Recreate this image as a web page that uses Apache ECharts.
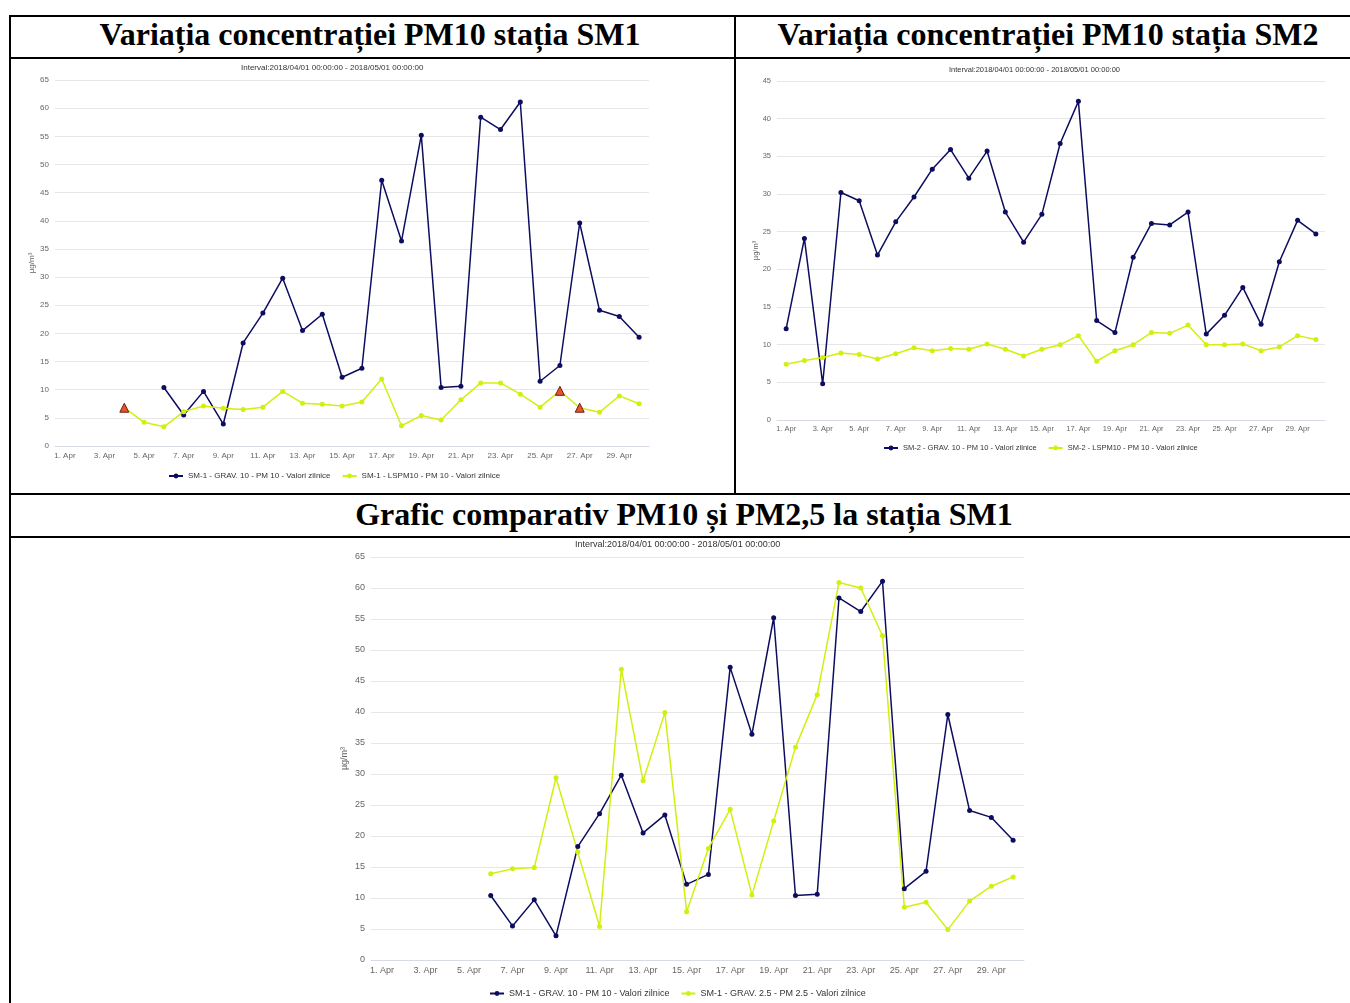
<!DOCTYPE html>
<html>
<head>
<meta charset="UTF-8">
<title>PM10 SM1 / SM2</title>
<script src="https://cdn.jsdelivr.net/npm/echarts@6/dist/echarts.min.js"></script>
<style>
  body { margin: 0; background: #fff; width: 1350px; height: 1003px; overflow: hidden; position: relative; }
  .ln { position: absolute; background: #000; }
  .ttl { position: absolute; height: 41px; line-height: 41px; text-align: center; white-space: nowrap;
         font-family: "Liberation Serif", "Times New Roman", serif; font-weight: bold; font-size: 32px; color: #000; }
  .ch { position: absolute; }
</style>
</head>
<body>
  <!-- table borders -->
  <div class="ln" style="left:9px;top:15px;width:1341px;height:2px"></div>
  <div class="ln" style="left:9px;top:15px;width:2px;height:988px"></div>
  <div class="ln" style="left:734px;top:15px;width:2px;height:479px"></div>
  <div class="ln" style="left:9px;top:57px;width:1341px;height:2px"></div>
  <div class="ln" style="left:9px;top:493px;width:1341px;height:2px"></div>
  <div class="ln" style="left:9px;top:536px;width:1341px;height:2px"></div>

  <div class="ttl" style="left:0px;top:14px;width:740px">Variația concentrației PM10 stația SM1</div>
  <div class="ttl" style="left:748px;top:14px;width:600px">Variația concentrației PM10 stația SM2</div>
  <div class="ttl" style="left:284px;top:494px;width:800px">Grafic comparativ PM10 și PM2,5 la stația SM1</div>

  <div id="c1" class="ch" style="left:11px;top:60px;width:723px;height:432px"></div>
  <div id="c2" class="ch" style="left:737px;top:60px;width:613px;height:432px"></div>
  <div id="c3" class="ch" style="left:11px;top:538px;width:1339px;height:465px"></div>

<script type="text/javascript">
const days = ['1. Apr', '2. Apr', '3. Apr', '4. Apr', '5. Apr', '6. Apr', '7. Apr', '8. Apr', '9. Apr', '10. Apr',
  '11. Apr', '12. Apr', '13. Apr', '14. Apr', '15. Apr', '16. Apr', '17. Apr', '18. Apr', '19. Apr', '20. Apr',
  '21. Apr', '22. Apr', '23. Apr', '24. Apr', '25. Apr', '26. Apr', '27. Apr', '28. Apr', '29. Apr', '30. Apr'];

// SM1 - PM10 gravimetric / LSPM10
const sm1Grav10 = [null, null, null, null, null, 10.4, 5.5, 9.7, 3.9, 18.3, 23.6, 29.8, 20.5, 23.4, 12.2,
  13.8, 47.2, 36.4, 55.2, 10.4, 10.6, 58.4, 56.2, 61.1, 11.5, 14.3, 39.6, 24.1, 23.0, 19.3];
const sm1Lspm10 = [null, null, null, 6.8, 4.2, 3.4, 6.1, 7.1, 6.7, 6.5, 6.9, 9.7, 7.6, 7.4, 7.1,
  7.8, 11.9, 3.6, 5.4, 4.6, 8.2, 11.2, 11.2, 9.2, 6.9, 9.8, 6.8, 6.0, 8.9, 7.5];
const sm1Flagged = ['4. Apr', '26. Apr', '27. Apr'];

// SM2 - PM10 gravimetric / LSPM10
const sm2Grav10 = [12.1, 24.1, 4.8, 30.2, 29.1, 21.9, 26.3, 29.6, 33.3, 35.9, 32.1, 35.7, 27.6, 23.6, 27.3,
  36.7, 42.3, 13.2, 11.6, 21.6, 26.1, 25.9, 27.6, 11.4, 13.9, 17.6, 12.7, 21.0, 26.5, 24.7];
const sm2Lspm10 = [7.4, 7.9, 8.3, 8.9, 8.7, 8.1, 8.8, 9.6, 9.2, 9.5, 9.4, 10.1, 9.4, 8.5, 9.4,
  10.0, 11.2, 7.8, 9.2, 10.0, 11.6, 11.5, 12.6, 10.0, 10.0, 10.1, 9.2, 9.7, 11.2, 10.7];

// SM1 - PM2.5 gravimetric
const sm1Grav25 = [null, null, null, null, null, 13.9, 14.7, 14.9, 29.4, 17.4, 5.4, 46.9, 28.9, 39.9, 7.8,
  18.0, 24.3, 10.5, 22.4, 34.3, 42.8, 60.9, 60.0, 52.3, 8.5, 9.3, 4.9, 9.5, 11.9, 13.4];

const intervalText = 'Interval:2018/04/01 00:00:00 - 2018/05/01 00:00:00';
const NAVY = '#0d0d5f';
const YELLOW = '#d3ef10';
const FONT = '"Liberation Sans", Arial, sans-serif';

function lineSeries(name, data, color) {
  return {
    name: name, type: 'line', data: data, color: color,
    symbol: 'circle', symbolSize: 5, connectNulls: false,
    lineStyle: { width: 1.5, color: color },
    itemStyle: { color: color },
    emphasis: { disabled: true }
  };
}

function buildOption(c) {
  return {
    animation: false,
    textStyle: { fontFamily: FONT },
    graphic: [{
      type: 'text', left: c.titleLeft, top: c.titleTop,
      style: { text: intervalText, fontSize: c.fs, fill: '#333', fontFamily: FONT }
    }],
    grid: { left: c.grid[0], top: c.grid[1], width: c.grid[2], height: c.grid[3] },
    legend: {
      left: c.legendLeft, top: c.legendTop, itemWidth: 14, itemHeight: 6, itemGap: 11,
      textStyle: { fontSize: c.fs, color: '#333', fontFamily: FONT },
      data: c.series.map(s => s.name)
    },
    xAxis: {
      type: 'category', data: days, boundaryGap: true,
      axisTick: { show: false },
      axisLine: { lineStyle: { color: '#d6dbe6', width: 1 } },
      axisLabel: { interval: 1, fontSize: c.fs, color: '#666', margin: c.xMargin }
    },
    yAxis: {
      type: 'value', min: 0, max: c.yMax, interval: 5,
      name: 'µg/m³', nameLocation: 'middle', nameGap: c.nameGap, nameRotate: 90,
      nameMoveOverlap: false,
      nameTextStyle: { fontSize: c.fs, color: '#666' },
      axisLine: { show: false }, axisTick: { show: false },
      axisLabel: { fontSize: c.fs, color: '#666', margin: 6 },
      splitLine: { lineStyle: { color: '#e6e6e6', width: 1 } }
    },
    series: c.series
  };
}

// chart 1 - SM1
const s1b = lineSeries('SM-1 - LSPM10 - PM 10 - Valori zilnice', sm1Lspm10.map((v, i) => {
  if (sm1Flagged.indexOf(days[i]) >= 0) {
    return { value: v, symbol: 'triangle', symbolSize: 9,
             itemStyle: { color: '#e8542c', borderColor: '#6b200c', borderWidth: 1 } };
  }
  return v;
}), YELLOW);
let chart1 = echarts.init(document.getElementById('c1'));
chart1.setOption(buildOption({
  fs: 8, titleLeft: 230, titleTop: 4,
  grid: [44, 20, 594, 366], yMax: 65, nameGap: 19, xMargin: 6,
  legendLeft: 152, legendTop: 407,
  series: [lineSeries('SM-1 - GRAV. 10 - PM 10 - Valori zilnice', sm1Grav10, NAVY), s1b]
}));

// chart 2 - SM2
let chart2 = echarts.init(document.getElementById('c2'));
chart2.setOption(buildOption({
  fs: 7.5, titleLeft: 212, titleTop: 6,
  grid: [40, 21, 548, 339], yMax: 45, nameGap: 17, xMargin: 5,
  legendLeft: 141, legendTop: 379,
  series: [
    lineSeries('SM-2 - GRAV. 10 - PM 10 - Valori zilnice', sm2Grav10, NAVY),
    lineSeries('SM-2 - LSPM10 - PM 10 - Valori zilnice', sm2Lspm10, YELLOW)
  ]
}));

// chart 3 - comparativ PM10 / PM2.5
let chart3 = echarts.init(document.getElementById('c3'));
chart3.setOption(buildOption({
  fs: 9, titleLeft: 564, titleTop: 2,
  grid: [360, 19, 653, 403], yMax: 65, nameGap: 22, xMargin: 6,
  legendLeft: 473, legendTop: 446,
  series: [
    lineSeries('SM-1 - GRAV. 10 - PM 10 - Valori zilnice', sm1Grav10, NAVY),
    lineSeries('SM-1 - GRAV. 2.5 - PM 2.5 - Valori zilnice', sm1Grav25, YELLOW)
  ]
}));
</script>
</body>
</html>
